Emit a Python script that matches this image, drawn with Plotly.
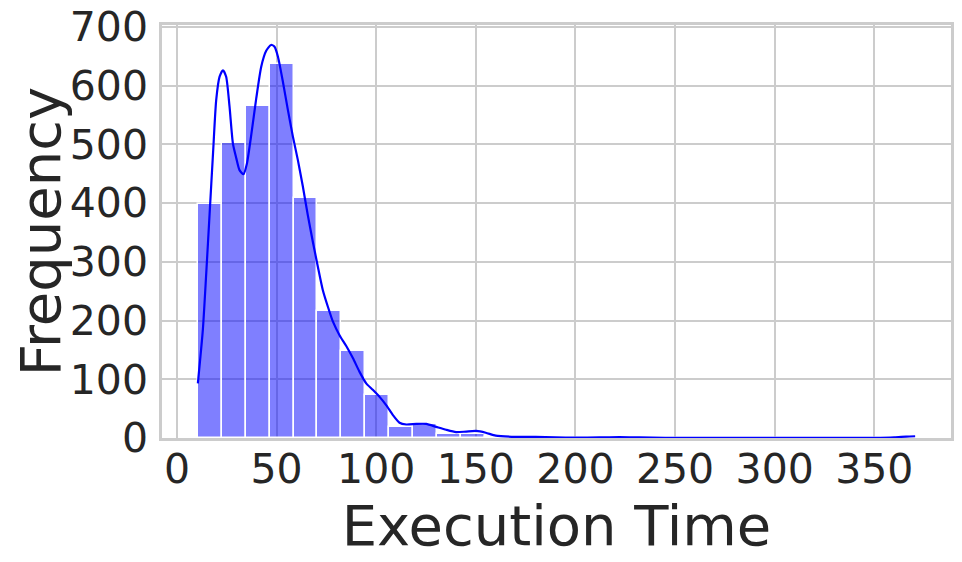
"""
Histogram of execution times with a KDE overlay (seaborn whitegrid look).
"""

import plotly.graph_objects as go

# Histogram: 30 equal-width bins, counts
bin_start = 10.5
bin_width = 12.0
counts = [398, 502, 565, 636, 408, 216, 148, 73, 18, 24,
          6, 7, 2, 1, 1, 0, 0, 1, 0, 0,
          0, 0, 0, 0, 0, 0, 0, 0, 0, 1]

# KDE curve (scaled to counts)
kde_x = [10.5, 13.0, 14.7, 16.4, 18.1, 19.7, 21.4, 23.1, 24.7, 26.4,
         28.1, 29.8, 31.4, 33.4, 35.1, 37.3, 39.8, 42.3, 44.8, 47.2,
         49.0, 50.7, 53.2, 55.7, 58.2, 60.7, 63.2, 65.7, 68.2, 70.7,
         73.2, 75.8, 78.3, 81.6, 84.9, 88.3, 91.6, 95.0, 98.3, 101.7,
         105.0, 108.4, 111.7, 115.1, 120.1, 125.1, 130.1, 135.1, 140.1, 145.2,
         150.2, 155, 160, 170, 180, 190, 200, 212, 222, 232,
         245, 260, 280, 300, 320, 340, 350, 360, 366, 370.5]
kde_y = [93, 184, 280, 382, 484, 575, 615, 626, 615, 564,
         501, 476, 456, 449, 467, 516, 578, 632, 659, 669,
         666, 649, 606, 558, 513, 473, 428, 379, 334, 292,
         252, 223, 198, 175, 157, 136, 113, 93, 82, 70,
         56, 39, 26, 23, 24, 24, 19, 14, 10, 11,
         12, 9, 4, 2, 2, 1, 0.5, 1, 1.5, 1,
         0.3, 0.1, 0.1, 0.1, 0.1, 0.1, 0.3, 1.2, 2.5, 3]

x_ticks = [0, 50, 100, 150, 200, 250, 300, 350]
y_ticks = [0, 100, 200, 300, 400, 500, 600, 700]

bin_centers = [bin_start + bin_width * (i + 0.5) for i in range(len(counts))]

fig = go.Figure()

fig.add_trace(
    go.Bar(
        x=bin_centers,
        y=counts,
        width=bin_width,
        marker=dict(color="rgba(0,0,255,0.5)", line=dict(color="white", width=1.5)),
        showlegend=False,
    )
)

fig.add_trace(
    go.Scatter(
        x=kde_x,
        y=kde_y,
        mode="lines",
        line=dict(color="blue", width=2.2, shape="spline", smoothing=0.6),
        showlegend=False,
    )
)

axis_common = dict(
    showgrid=True,
    gridcolor="#cccccc",
    gridwidth=1.6,
    showline=True,
    linecolor="#cccccc",
    linewidth=2.5,
    mirror=True,
    zeroline=False,
    automargin=False,
    ticklabeloverflow="allow",
    tickfont=dict(size=41, color="#262626"),
)

# the page body has an 8px margin, so the figure is 8px smaller than the window
fig.update_layout(
    width=954,
    height=554,
    margin=dict(l=154, r=11, t=17, b=124),
    paper_bgcolor="white",
    plot_bgcolor="white",
    font=dict(family="DejaVu Sans", color="#262626"),
    bargap=0,
    xaxis=dict(
        range=[-7.5, 388.5],
        tickvals=x_ticks,
        ticks="",
        ticklabelstandoff=-7,
        title=dict(text="Execution Time", font=dict(size=56), standoff=0),
        **axis_common,
    ),
    yaxis=dict(
        range=[0, 703],
        tickvals=y_ticks,
        ticks="outside",
        ticklen=3,
        tickcolor="rgba(0,0,0,0)",
        title=dict(text="Frequency", font=dict(size=56), standoff=9),
        **axis_common,
    ),
)

fig.write_html("out.html")
